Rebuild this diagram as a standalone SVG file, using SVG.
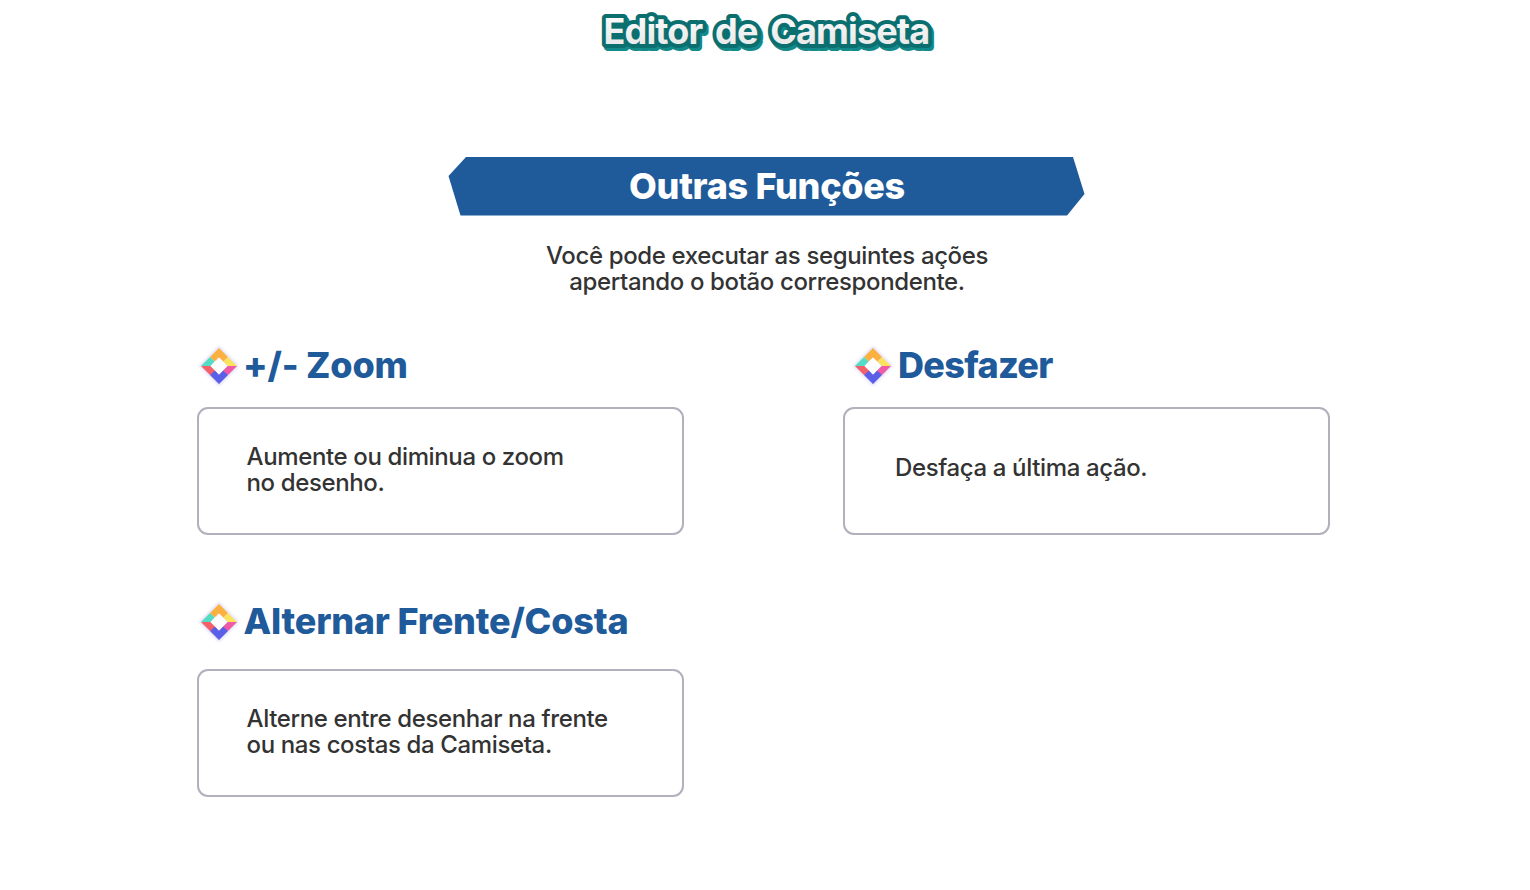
<svg xmlns="http://www.w3.org/2000/svg" width="1530" height="890" viewBox="0 0 1530 890">
<style>
text{font-family:Inter,"Liberation Sans",Arial,sans-serif}
.title{font-size:36px;font-weight:700;text-anchor:middle;letter-spacing:-.85px;word-spacing:5px}
.body{font-size:24px;font-weight:500;fill:#333;letter-spacing:-.37px}
.head{font-size:36px;font-weight:800;fill:#1f5a9a;letter-spacing:-.2px}
.box{fill:#fff;stroke:#b1b0bc;stroke-width:2}
</style>
<defs>
<linearGradient id="tg" x1="0" y1="0" x2="0" y2="1"><stop offset="0" stop-color="#fff"/><stop offset="1" stop-color="#e4e4e4"/></linearGradient>
<filter id="glow" x="-30%" y="-30%" width="160%" height="160%"><feGaussianBlur stdDeviation="1.6"/></filter>
<g id="icon">
<path d="M0-20 20 0 0 20-20 0Z" fill="#d9d4f2" opacity=".8" filter="url(#glow)"/>
<path d="M0-18 9-9 4.500-4.500 0-8.500-4.500-4.500-9-9Z" fill="#fbb040"/>
<path d="M-18 0-9-9-4.500-4.500-8.500 0Z" fill="#55dcc4"/>
<path d="M18 0 9-9 4.500-4.500 8.500 0Z" fill="#fde25f"/>
<path d="M-18 0-8.500 0-2 6.500-9 9Z" fill="#f4606a"/>
<path d="M18 0 8.500 0 2 6.500 9 9Z" fill="#ee5aa5"/>
<path d="M0 18-9 9-4 4.500 0 8.500 4 4.500 9 9Z" fill="#5b5fe8"/>
<path d="M0-8.500 8.500 0 0 8.500-8.500 0Z" fill="#fff" opacity=".95"/>
</g>
</defs>
<g id="title">
<text class="title" x="768.500" y="46.500" fill="#2aa0a0" stroke="#128a8a" stroke-width="8" stroke-linejoin="round">Editor de Camiseta</text>
<text class="title" x="766.500" y="44" fill="#0c6f6f" stroke="#0c6f6f" stroke-width="8" stroke-linejoin="round">Editor de Camiseta</text>
<text class="title" x="766.500" y="44" fill="url(#tg)">Editor de Camiseta</text>
</g>
<g id="banner">
<path d="M466 157H1073L1084.500 194 1067 215.500H460.500L448.500 176Z" fill="#1f5a9a"/>
<text x="767" y="199" text-anchor="middle" font-size="36" font-weight="800" fill="#fff" style="letter-spacing:-.3px">Outras Funções</text>
</g>
<g id="intro">
<text class="body" x="767" y="264" text-anchor="middle">Você pode executar as seguintes ações</text>
<text class="body" x="767" y="290" text-anchor="middle">apertando o botão correspondente.</text>
</g>
<g id="zoom">
<use href="#icon" x="219" y="366"/>
<text class="head" x="243" y="378">+/- Zoom</text>
<rect class="box" x="198" y="408" width="485" height="126" rx="10"/>
<text class="body" x="246.500" y="465">Aumente ou diminua o zoom</text>
<text class="body" x="246.500" y="491">no desenho.</text>
</g>
<g id="desfazer">
<use href="#icon" x="873" y="366"/>
<text class="head" x="898" y="378" style="letter-spacing:-.7px">Desfazer</text>
<rect class="box" x="844" y="408" width="485" height="126" rx="10"/>
<text class="body" x="895" y="476">Desfaça a última ação.</text>
</g>
<g id="alternar">
<use href="#icon" x="219" y="622"/>
<text class="head" x="243.500" y="634">Alternar Frente/Costa</text>
<rect class="box" x="198" y="670" width="485" height="126" rx="10"/>
<text class="body" x="246.500" y="727">Alterne entre desenhar na frente</text>
<text class="body" x="246.500" y="753">ou nas costas da Camiseta.</text>
</g>
<g id="connectors"></g>
</svg>
